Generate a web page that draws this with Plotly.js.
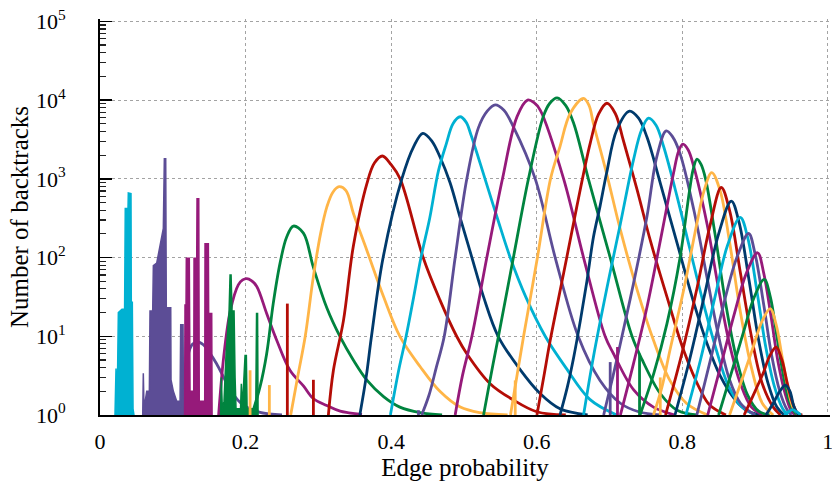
<!DOCTYPE html>
<html><head><meta charset="utf-8">
<script src="https://cdn.plot.ly/plotly-3.0.1.min.js"></script>
<style>html,body{margin:0;padding:0;background:#fff}</style></head>
<body><div id="chart" style="width:832px;height:487px"></div>
<script>
// ---------- tick labels ----------
const xTickVals = [0, 0.2, 0.4, 0.6, 0.8, 1];
const xTickText = ['0', '0.2', '0.4', '0.6', '0.8', '1'];
const yTickVals = [1, 10, 100, 1000, 10000, 100000];
const yTickText = ['10<sup>0</sup>', '10<sup>1</sup>', '10<sup>2</sup>', '10<sup>3</sup>', '10<sup>4</sup>', '10<sup>5</sup>'];

// ---------- noisy (spiky) parts, upper envelope ----------
const spk01p = [0.0206, 0.022, 0.0234, 0.0252, 0.0302, 0.0338, 0.0347, 0.0385, 0.0389, 0.0426, 0.043, 0.0444, 0.0454, 0.0467];
const spk01v = [1, 3.9, 1, 20, 22, 22, 420, 420, 660, 650, 27, 27, 1.2, 1];
const spk02p = [0.0587, 0.0595, 0.0605, 0.0642, 0.0678, 0.0687, 0.0724, 0.0733, 0.0779, 0.0825, 0.087, 0.0884, 0.0903, 0.0911, 0.0972, 0.0976, 0.1008, 0.1054, 0.11, 0.1109, 0.1141, 0.1148];
const spk02v = [1, 3.4, 1.2, 2.0, 2.0, 21, 21, 79, 85, 145, 234, 1800, 1800, 23, 23, 2.8, 2.0, 1.5, 1.5, 14, 14, 1];
const spk03p = [0.1162, 0.1168, 0.1182, 0.1186, 0.1227, 0.1237, 0.1288, 0.1292, 0.1329, 0.1333, 0.1357, 0.1364, 0.1439, 0.1443, 0.1489, 0.1493, 0.1535, 0.154];
const spk03v = [1, 25, 25, 98, 98, 2, 2, 98, 98, 560, 560, 1.5, 1.5, 150, 150, 19.5, 19.5, 1];
const spk04p = [0.1656, 0.1667, 0.1681, 0.1704, 0.1732, 0.1773, 0.1787, 0.1801, 0.1814, 0.1842, 0.1856, 0.1869, 0.1931, 0.1942, 0.1956, 0.1993, 0.2011, 0.2021, 0.214, 0.2151, 0.2165, 0.2172];
const spk04v = [1, 3.0, 1.2, 1.5, 6, 20, 60, 60, 21, 21, 3, 1.2, 1.2, 2.5, 1.2, 5.7, 5.7, 1.2, 1.2, 19.5, 19.5, 1];

// isolated single spikes: series number, position, height
const isoSeries = [5, 5, 6, 6, 9, 12, 16, 17, 18, 19];
const isoP = [0.2062, 0.2327, 0.2574, 0.2932, 0.4376, 0.5705, 0.701, 0.711, 0.7413, 0.7698];
const isoV = [3.7, 2.4, 26, 2.8, 1.15, 2.75, 4.7, 7.3, 6.0, 3.0];

// ---------- smooth curves ----------
const p02 = [0.112, 0.117, 0.121, 0.127, 0.134, 0.142, 0.150, 0.160, 0.170, 0.180, 0.197, 0.22, 0.25];
const v02 = [1, 2.5, 5.8, 7.9, 8.5, 7.8, 6.3, 4.5, 3.0, 2.0, 1.33, 1.08, 1.0];
const p03 = [0.163, 0.170, 0.179, 0.190, 0.196, 0.2016, 0.208, 0.2154, 0.229, 0.2428, 0.261, 0.2795, 0.293, 0.3116, 0.33, 0.36];
const v03 = [1, 5.5, 21, 45, 52, 54, 51, 43, 19.5, 8.9, 3.7, 2.34, 1.62, 1.32, 1.12, 1.02];
const p04 = [0.2085, 0.22, 0.229, 0.238, 0.2474, 0.2565, 0.2657, 0.2795, 0.293, 0.3116, 0.33, 0.348, 0.367, 0.39, 0.412, 0.44, 0.47];
const v04 = [1, 2.3, 6.0, 26, 85, 182, 251, 204, 76, 23, 9.8, 5.0, 2.75, 1.7, 1.26, 1.07, 1];
const p05 = [0.262, 0.272, 0.282, 0.293, 0.303, 0.3116, 0.320, 0.3285, 0.338, 0.3482, 0.3667, 0.3895, 0.4124, 0.44, 0.467, 0.495, 0.522, 0.56];
const v05 = [1, 3.2, 10, 56, 200, 437, 676, 794, 708, 363, 123, 32, 9.8, 4.1, 2.0, 1.26, 1.07, 1];
const p06 = [0.3138, 0.3207, 0.3345, 0.348, 0.3667, 0.377, 0.388, 0.40, 0.4124, 0.444, 0.467, 0.49, 0.504, 0.536, 0.568, 0.60, 0.64];
const v06 = [1, 3.7, 15.8, 138, 871, 1585, 1950, 1514, 1000, 100, 29, 10, 6.0, 2.5, 1.55, 1.1, 1];
const p07 = [0.357, 0.366, 0.373, 0.389, 0.4147, 0.431, 0.4436, 0.456, 0.467, 0.481, 0.495, 0.511, 0.527, 0.547, 0.577, 0.605, 0.632, 0.67];
const v07 = [1, 3.16, 10, 100, 1000, 2570, 3780, 3020, 1905, 891, 316, 100, 31.6, 10, 3.8, 1.86, 1.2, 1];
const p08 = [0.399, 0.41, 0.4206, 0.431, 0.441, 0.453, 0.465, 0.476, 0.485, 0.4948, 0.503, 0.51, 0.529, 0.546, 0.5636, 0.585, 0.6117, 0.64, 0.673, 0.71];
const v08 = [1, 3.55, 10, 31.6, 100, 316, 1260, 2820, 5010, 6140, 5250, 3550, 1000, 316, 100, 31.6, 10, 4.0, 1.58, 1];
const p09 = [0.442, 0.452, 0.462, 0.473, 0.488, 0.504, 0.52, 0.532, 0.543, 0.555, 0.568, 0.598, 0.6254, 0.657, 0.687, 0.715, 0.74, 0.77];
const v09 = [1, 1.78, 4.0, 10, 100, 1000, 4470, 7240, 8710, 7410, 4570, 1000, 100, 10, 2.75, 1.41, 1.1, 1];
const p10 = [0.488, 0.498, 0.511, 0.5315, 0.553, 0.573, 0.5874, 0.596, 0.605, 0.637, 0.6644, 0.694, 0.7056, 0.733, 0.7605, 0.79];
const v10 = [1, 3.16, 10, 100, 1000, 6170, 10000, 9330, 7410, 1000, 100, 10, 6.0, 2.1, 1.26, 1];
const p11 = [0.527, 0.537, 0.5475, 0.568, 0.5887, 0.609, 0.618, 0.628, 0.64, 0.651, 0.671, 0.701, 0.731, 0.745, 0.77, 0.793, 0.82];
const v11 = [1, 3.16, 10, 100, 1000, 6170, 9120, 10700, 8510, 5010, 1000, 100, 10, 5.0, 1.86, 1.15, 1];
const p12 = [0.564, 0.572, 0.582, 0.601, 0.619, 0.632, 0.646, 0.6644, 0.672, 0.678, 0.696, 0.715, 0.738, 0.7605, 0.783, 0.806, 0.835];
const v12 = [1, 2.8, 10, 100, 1000, 2570, 6760, 10500, 8510, 5010, 1175, 224, 38.9, 8.9, 2.75, 1.4, 1];
const p13 = [0.6003, 0.61, 0.6186, 0.637, 0.655, 0.6735, 0.685, 0.6965, 0.708, 0.719, 0.738, 0.756, 0.779, 0.802, 0.825, 0.838, 0.86];
const v13 = [1, 3.16, 8.9, 63, 437, 2820, 6610, 9120, 6760, 3090, 724, 166, 31.6, 6.6, 2.07, 1.33, 1];
const p14 = [0.632, 0.642, 0.651, 0.66, 0.669, 0.678, 0.687, 0.696, 0.710, 0.7276, 0.74, 0.7515, 0.770, 0.793, 0.816, 0.834, 0.852, 0.873, 0.89, 0.91];
const v14 = [1, 2.24, 5.5, 15.8, 50, 182, 447, 1175, 4170, 7240, 5890, 3390, 871, 151, 26.3, 8.1, 3.16, 1.55, 1.12, 1];
const p15 = [0.6644, 0.678, 0.696, 0.715, 0.733, 0.744, 0.7537, 0.764, 0.7744, 0.793, 0.811, 0.829, 0.847, 0.863, 0.880, 0.90];
const v15 = [1, 5.5, 38.9, 269, 1740, 4170, 5890, 4790, 2570, 589, 123, 26.3, 6.6, 2.4, 1.33, 1];
const p16 = [0.692, 0.705, 0.715, 0.733, 0.7515, 0.765, 0.778, 0.787, 0.797, 0.816, 0.834, 0.85, 0.865, 0.88, 0.90];
const v16 = [1, 3.16, 8.1, 46.8, 331, 1905, 4070, 3390, 2090, 398, 56, 10, 2.8, 1.41, 1];
const p17 = [0.715, 0.733, 0.7515, 0.770, 0.788, 0.795, 0.8008, 0.808, 0.816, 0.834, 0.85, 0.865, 0.88, 0.895, 0.91];
const v17 = [1, 4.5, 23.4, 166, 1175, 2240, 2750, 2340, 1410, 269, 39.8, 7.9, 2.5, 1.26, 1];
const p18 = [0.742, 0.761, 0.779, 0.797, 0.81, 0.815, 0.8202, 0.826, 0.832, 0.845, 0.86, 0.875, 0.89, 0.905, 0.92];
const v18 = [1, 3.4, 14.5, 100, 708, 1320, 1780, 1510, 1000, 200, 25, 5.0, 1.78, 1.12, 1];
const p19 = [0.7605, 0.772, 0.783, 0.802, 0.82, 0.83, 0.8405, 0.852, 0.865, 0.88, 0.895, 0.91, 0.925];
const v19 = [1, 2.24, 6.6, 38.9, 269, 708, 1200, 708, 158, 20, 4.0, 1.41, 1];
const p20 = [0.777, 0.80, 0.82, 0.838, 0.8536, 0.865, 0.88, 0.895, 0.91, 0.925, 0.935];
const v20 = [1, 6.3, 39.8, 251, 776, 398, 63, 10, 2.5, 1.26, 1];
const p21 = [0.79, 0.81, 0.83, 0.85, 0.8674, 0.878, 0.892, 0.905, 0.918, 0.93, 0.94];
const v21 = [1, 5.0, 31.6, 200, 521, 282, 50, 8.9, 2.5, 1.26, 1];
const p22 = [0.805, 0.825, 0.845, 0.862, 0.8797, 0.89, 0.903, 0.915, 0.927, 0.938, 0.945];
const v22 = [1, 5.0, 31.6, 141, 323, 178, 35.5, 7.1, 2.24, 1.2, 1];
const p23 = [0.82, 0.84, 0.858, 0.875, 0.8912, 0.90, 0.912, 0.923, 0.934, 0.944, 0.95];
const v23 = [1, 5.6, 28, 100, 202, 112, 25, 5.6, 2.0, 1.17, 1];
const p24 = [0.835, 0.855, 0.872, 0.888, 0.9035, 0.912, 0.922, 0.932, 0.942, 0.95, 0.955];
const v24 = [1, 5.0, 20, 63, 115, 63, 17.8, 4.5, 1.78, 1.12, 1];
const p25 = [0.85, 0.868, 0.884, 0.899, 0.9127, 0.921, 0.93, 0.939, 0.947, 0.955, 0.96];
const v25 = [1, 3.55, 11.2, 31.6, 52.7, 31.6, 10, 3.16, 1.51, 1.07, 1];
const p26 = [0.865, 0.882, 0.897, 0.91, 0.921, 0.929, 0.937, 0.945, 0.952, 0.96];
const v26 = [1, 2.8, 7.1, 15.8, 22.5, 14.1, 5.6, 2.24, 1.26, 1];
const p27 = [0.885, 0.90, 0.912, 0.92, 0.929, 0.937, 0.944, 0.951, 0.958, 0.965];
const v27 = [1, 2.0, 3.55, 5.6, 7.3, 5.0, 2.6, 1.48, 1.07, 1];
const p28 = [0.915, 0.925, 0.934, 0.9416, 0.948, 0.953, 0.958, 0.962];
const v28 = [1, 1.41, 2.0, 2.4, 2.0, 1.32, 1.05, 1];
const p29 = [0.94, 0.946, 0.9516, 0.957, 0.963];
const v29 = [1, 1.1, 1.17, 1.1, 1];

// ---------- styling ----------
const palette = ['#00b1d2', '#5c4d96', '#961a7a', '#00843f', '#ffb547', '#b40d06', '#003a6c'];
const colorOf = k => palette[(k - 1) % palette.length];

const spikeGroups = [[1, spk01p, spk01v], [2, spk02p, spk02v], [3, spk03p, spk03v], [4, spk04p, spk04v]];
const smoothGroups = [
  [2, p02, v02], [3, p03, v03], [4, p04, v04], [5, p05, v05], [6, p06, v06], [7, p07, v07],
  [8, p08, v08], [9, p09, v09], [10, p10, v10], [11, p11, v11], [12, p12, v12], [13, p13, v13],
  [14, p14, v14], [15, p15, v15], [16, p16, v16], [17, p17, v17], [18, p18, v18], [19, p19, v19],
  [20, p20, v20], [21, p21, v21], [22, p22, v22], [23, p23, v23], [24, p24, v24], [25, p25, v25],
  [26, p26, v26], [27, p27, v27], [28, p28, v28], [29, p29, v29]
];

const traces = [];
for (let k = 1; k <= 29; k++) {
  const c = colorOf(k);
  spikeGroups.filter(g => g[0] === k).forEach(g => {
    traces.push({x: g[1], y: g[2], type: 'scatter', mode: 'lines', fill: 'toself', fillcolor: c,
      line: {color: c, width: 1.5}, hoverinfo: 'skip'});
  });
  const ix = [], iy = [];
  isoSeries.forEach((s, i) => { if (s === k) { ix.push(isoP[i], isoP[i], null); iy.push(1, isoV[i], null); } });
  if (ix.length) traces.push({x: ix, y: iy, type: 'scatter', mode: 'lines', line: {color: c, width: 2.8}, hoverinfo: 'skip'});
  smoothGroups.filter(g => g[0] === k).forEach(g => {
    traces.push({x: g[1], y: g[2], type: 'scatter', mode: 'lines',
      line: {color: c, width: 2.8, shape: 'spline', smoothing: 1}, hoverinfo: 'skip'});
  });
}

const gridStyle = {showgrid: true, gridcolor: '#a3a3a3', gridwidth: 1, griddash: '3px,3px'};
const layout = {
  width: 832, height: 487,
  margin: {l: 100, r: 2, t: 19, b: 72},
  paper_bgcolor: '#ffffff', plot_bgcolor: '#ffffff', showlegend: false,
  font: {family: '"Liberation Serif", "DejaVu Serif", serif', size: 22, color: '#000'},
  xaxis: Object.assign({
    range: [0, 1.003], tickmode: 'array', tickvals: xTickVals, ticktext: xTickText,
    zeroline: false, showline: true, linecolor: '#000', linewidth: 2, ticks: '',
    ticklabelstandoff: 6, ticklabeloverflow: 'allow',
    title: {text: 'Edge probability', font: {size: 25}, standoff: 4}
  }, gridStyle),
  yaxis: Object.assign({
    type: 'log', range: [0, 5.03], tickmode: 'array', tickvals: yTickVals, ticktext: yTickText,
    ticks: 'inside', ticklen: 12, tickwidth: 1.5, tickcolor: '#000',
    minor: {dtick: 'D1', ticks: 'inside', ticklen: 6, tickwidth: 1.2, tickcolor: '#222', showgrid: false},
    zeroline: false, showline: true, linecolor: '#000', linewidth: 2,
    ticklabelstandoff: 28, ticklabeloverflow: 'allow',
    title: {text: 'Number of backtracks', font: {size: 25}, standoff: 0}
  }, gridStyle)
};

Plotly.newPlot('chart', traces, layout, {displayModeBar: false, staticPlot: true});
</script>
</body></html>
